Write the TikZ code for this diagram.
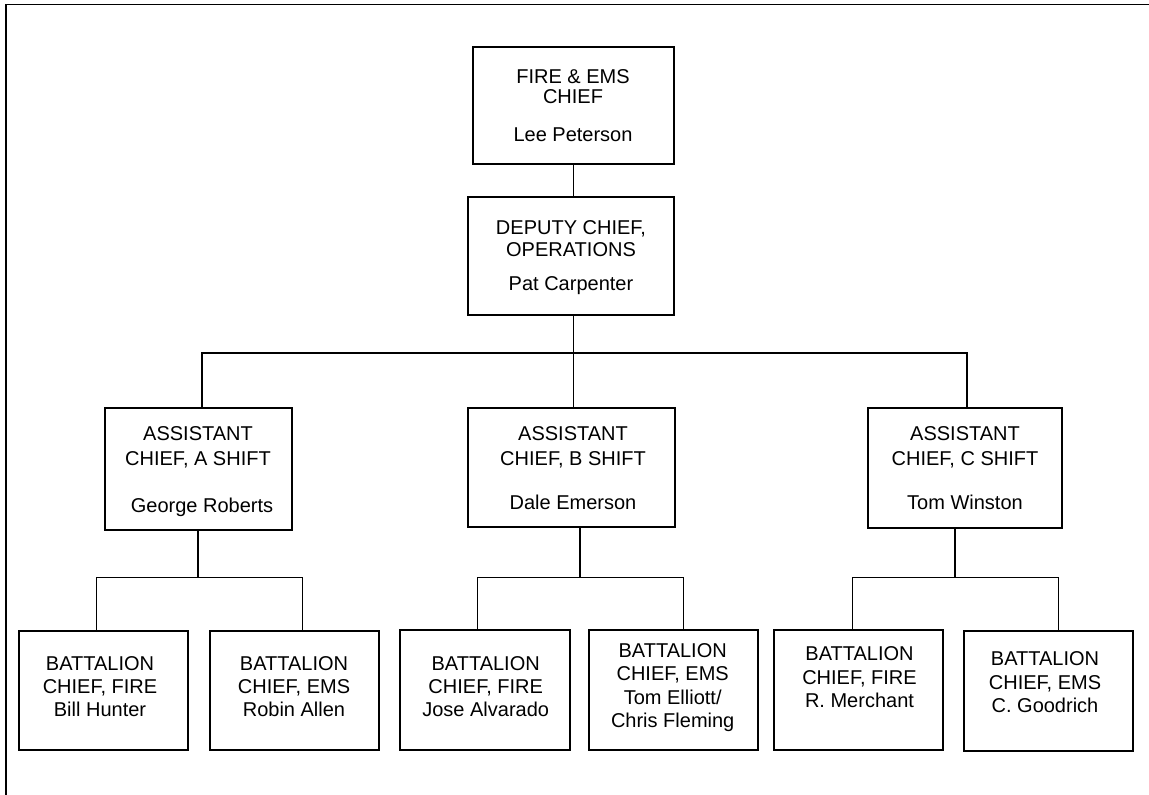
\documentclass[tikz,border=0pt]{standalone}
\usepackage{fontspec}
\setmainfont{Liberation Sans}
\begin{document}
\begin{tikzpicture}[x=1pt,y=-1pt,
  box/.style={draw=black,line width=1.8pt,inner sep=0pt,rectangle},
  txt/.style={anchor=north,inner sep=0pt,align=center,font=\fontsize{20}{23.3}\selectfont},
  lnthin/.style={draw=black,line width=1pt},
  lnthick/.style={draw=black,line width=1.9pt},
  frame/.style={draw=black,line width=1.5pt}]
\useasboundingbox (0,0) rectangle (1149,795);
% frame
\coordinate (f1) at (6,795);
\coordinate (f2) at (6,4.5);
\coordinate (f3) at (1149,4.5);
\draw[frame] (f1) -- (f2) -- (f3);
% boxes
\node[box,minimum width=201pt,minimum height=117pt] (top) at (573.5,105.5) {};
\node[box,minimum width=206pt,minimum height=118pt] (dep) at (571,256) {};
\node[box,minimum width=187pt,minimum height=122pt] (A) at (198.5,469) {};
\node[box,minimum width=207pt,minimum height=119pt] (B) at (571.5,467.5) {};
\node[box,minimum width=194pt,minimum height=120pt] (C) at (965,468) {};
\node[box,minimum width=169pt,minimum height=119pt] (b1) at (103.5,690.5) {};
\node[box,minimum width=169pt,minimum height=119pt] (b2) at (294.5,690.5) {};
\node[box,minimum width=170pt,minimum height=120pt] (b3) at (485,690) {};
\node[box,minimum width=169pt,minimum height=120pt] (b4) at (673.5,690) {};
\node[box,minimum width=169pt,minimum height=120pt] (b5) at (858.5,690) {};
\node[box,minimum width=169pt,minimum height=120pt] (b6) at (1048.5,691) {};
% texts
\node[txt] (ttop) at (573,69.5) {FIRE \& EMS\\[-3.8pt]CHIEF\\[14.8pt]Lee Peterson};
\node[txt] (tdep) at (571,220) {DEPUTY CHIEF,\\[-1.3pt]OPERATIONS\\[11.5pt]Pat Carpenter};
\node[txt] (tA) at (198,426.7) {ASSISTANT\\[1pt]CHIEF, A SHIFT\\[23.7pt]\hspace*{8pt}George Roberts};
\node[txt] (tB) at (573,426.7) {ASSISTANT\\[1pt]CHIEF, B SHIFT\\[21pt]Dale Emerson};
\node[txt] (tC) at (965,426.7) {ASSISTANT\\[1pt]CHIEF, C SHIFT\\[21pt]Tom Winston};
\node[txt] (tb1) at (100,656) {BATTALION\\CHIEF, FIRE\\Bill Hunter};
\node[txt] (tb2) at (294,656) {BATTALION\\CHIEF, EMS\\Robin Allen};
\node[txt] (tb3) at (485.7,656) {BATTALION\\CHIEF, FIRE\\Jose Alvarado};
\node[txt] (tb4) at (672.7,643.3) {BATTALION\\CHIEF, EMS\\Tom Elliott/\\Chris Fleming};
\node[txt] (tb5) at (859.5,646.7) {BATTALION\\CHIEF, FIRE\\R. Merchant};
\node[txt] (tb6) at (1045,651.7) {BATTALION\\CHIEF, EMS\\C. Goodrich};
% connector coordinates
\coordinate (hub) at (573,353);
\coordinate (hL) at (202,353);
\coordinate (hR) at (967,353);
\coordinate (jA) at (198,577);
\coordinate (jB) at (580,577);
\coordinate (jC) at (955,577);
\coordinate (a1) at (96,577);
\coordinate (a2) at (302,577);
\coordinate (c3) at (477,577);
\coordinate (c4) at (683,577);
\coordinate (c5) at (852,577);
\coordinate (c6) at (1058,577);
% connectors
\draw[lnthin] (hub |- top.south) -- (hub |- dep.north);
\draw[lnthin] (hub |- dep.south) -- (hub |- B.north);
\draw[lnthick] (hL |- A.north) -- (hL) -- (hR) -- (hR |- C.north);
\draw[lnthick] (jA |- A.south) -- (jA);
\draw[lnthick] (jB |- B.south) -- (jB);
\draw[lnthick] (jC |- C.south) -- (jC);
\draw[lnthin] (a1 |- b1.north) -- (a1) -- (a2) -- (a2 |- b2.north);
\draw[lnthin] (c3 |- b3.north) -- (c3) -- (c4) -- (c4 |- b4.north);
\draw[lnthin] (c5 |- b5.north) -- (c5) -- (c6) -- (c6 |- b6.north);
\end{tikzpicture}
\end{document}
